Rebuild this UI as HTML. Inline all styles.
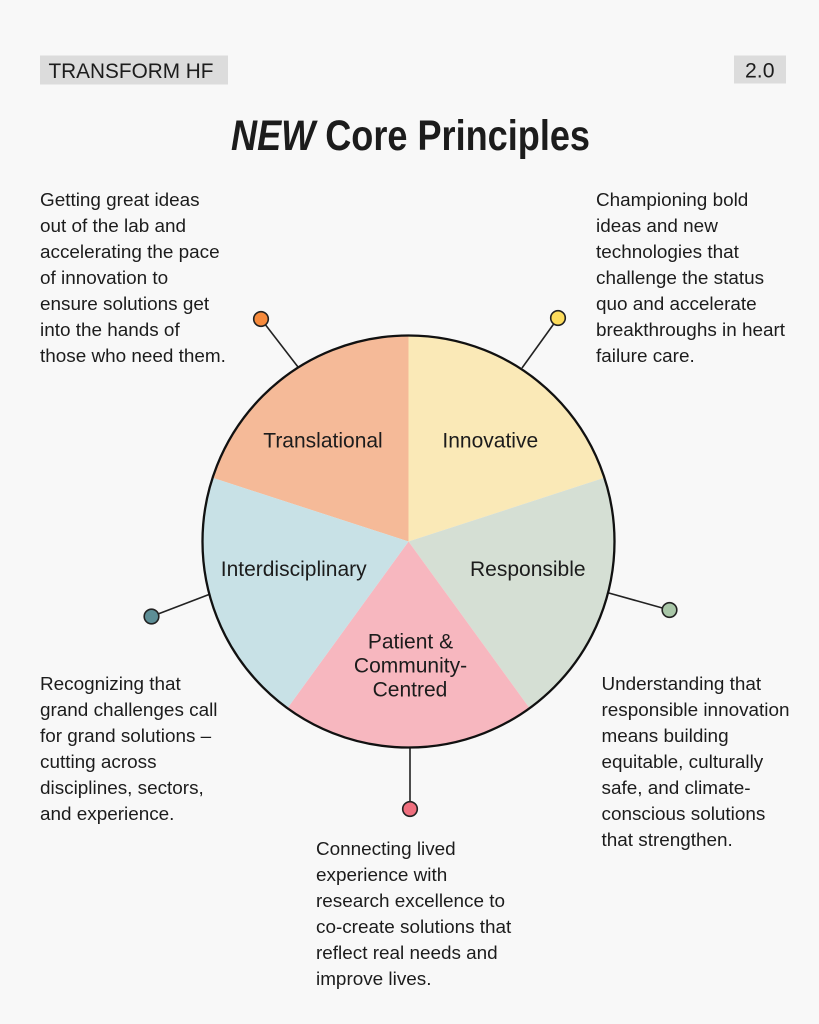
<!DOCTYPE html>
<html>
<head>
<meta charset="utf-8">
<style>
  html, body { margin: 0; padding: 0; background: #f8f8f8; }
  body { width: 819px; height: 1024px; overflow: hidden; }
  svg { display: block; }
  text { font-family: "Liberation Sans", Arial, sans-serif; fill: #1c1c1c; }
  .body { font-size: 18.9px; }
  .lbl { font-size: 21px; text-anchor: middle; }
</style>
</head>
<body>
<svg width="819" height="1024" viewBox="0 0 819 1024" xmlns="http://www.w3.org/2000/svg">
  <rect x="0" y="0" width="819" height="1024" fill="#f8f8f8"/>

  <!-- Header tags -->
  <rect x="40" y="55.5" width="188" height="29" fill="#dcdcdc"/>
  <text x="48.5" y="78" font-size="21.5" textLength="165" lengthAdjust="spacingAndGlyphs">TRANSFORM HF</text>
  <rect x="734" y="55.5" width="52" height="28" fill="#dcdcdc"/>
  <text x="745" y="77.7" font-size="21.5" textLength="29.5" lengthAdjust="spacingAndGlyphs">2.0</text>

  <!-- Title -->
  <text x="231" y="150" font-size="43" font-weight="bold" textLength="359" lengthAdjust="spacingAndGlyphs"><tspan font-style="italic">NEW</tspan> Core Principles</text>

  <!-- Connectors -->
  <g stroke="#222" stroke-width="1.6" fill="none">
    <line x1="261" y1="319" x2="298" y2="367"/>
    <line x1="558" y1="318" x2="522" y2="368"/>
    <line x1="669.5" y1="610" x2="607" y2="592.5"/>
    <line x1="151.5" y1="616.5" x2="209" y2="594.5"/>
    <line x1="410" y1="809" x2="410" y2="746"/>
  </g>
  <g stroke="#222" stroke-width="1.6">
    <circle cx="261" cy="319" r="7.3" fill="#f68a3c"/>
    <circle cx="558" cy="318" r="7.3" fill="#fddc5c"/>
    <circle cx="669.5" cy="610" r="7.3" fill="#a9c7a8"/>
    <circle cx="151.5" cy="616.5" r="7.3" fill="#5d8e96"/>
    <circle cx="410" cy="809" r="7.3" fill="#ef6f7e"/>
  </g>

  <!-- Pie -->
  <g>
    <path d="M408.5,541.5 L212.6,477.8 A206,206 0 0 1 408.5,335.5 Z" fill="#f5ba98"/>
    <path d="M408.5,541.5 L408.5,335.5 A206,206 0 0 1 604.4,477.8 Z" fill="#fae9b7"/>
    <path d="M408.5,541.5 L604.4,477.8 A206,206 0 0 1 529.6,708.2 Z" fill="#d5dfd4"/>
    <path d="M408.5,541.5 L529.6,708.2 A206,206 0 0 1 287.4,708.2 Z" fill="#f7b7bf"/>
    <path d="M408.5,541.5 L287.4,708.2 A206,206 0 0 1 212.6,477.8 Z" fill="#c8e1e6"/>
    <circle cx="408.5" cy="541.5" r="206" fill="none" stroke="#111" stroke-width="2.3"/>
  </g>

  <!-- Pie labels -->
  <text class="lbl" x="323" y="447.7">Translational</text>
  <text class="lbl" x="490.3" y="447.7">Innovative</text>
  <text class="lbl" x="293.7" y="576">Interdisciplinary</text>
  <text class="lbl" x="527.8" y="576">Responsible</text>
  <text class="lbl" x="410.5" y="648.3">Patient &amp;</text>
  <text class="lbl" x="410.5" y="672.3">Community-</text>
  <text class="lbl" x="410" y="696.3">Centred</text>

  <!-- Block 1: Translational -->
  <text class="body" x="40" y="206">Getting great ideas</text>
  <text class="body" x="40" y="232">out of the lab and</text>
  <text class="body" x="40" y="258">accelerating the pace</text>
  <text class="body" x="40" y="284">of innovation to</text>
  <text class="body" x="40" y="310">ensure solutions get</text>
  <text class="body" x="40" y="336">into the hands of</text>
  <text class="body" x="40" y="362">those who need them.</text>

  <!-- Block 2: Innovative -->
  <text class="body" x="596" y="206">Championing bold</text>
  <text class="body" x="596" y="232">ideas and new</text>
  <text class="body" x="596" y="258">technologies that</text>
  <text class="body" x="596" y="284">challenge the status</text>
  <text class="body" x="596" y="310">quo and accelerate</text>
  <text class="body" x="596" y="336">breakthroughs in heart</text>
  <text class="body" x="596" y="362">failure care.</text>

  <!-- Block 3: Interdisciplinary -->
  <text class="body" x="40" y="690">Recognizing that</text>
  <text class="body" x="40" y="716">grand challenges call</text>
  <text class="body" x="40" y="742">for grand solutions –</text>
  <text class="body" x="40" y="768">cutting across</text>
  <text class="body" x="40" y="794">disciplines, sectors,</text>
  <text class="body" x="40" y="820">and experience.</text>

  <!-- Block 4: Responsible -->
  <text class="body" x="601.5" y="690">Understanding that</text>
  <text class="body" x="601.5" y="716">responsible innovation</text>
  <text class="body" x="601.5" y="742">means building</text>
  <text class="body" x="601.5" y="768">equitable, culturally</text>
  <text class="body" x="601.5" y="794">safe, and climate-</text>
  <text class="body" x="601.5" y="820">conscious solutions</text>
  <text class="body" x="601.5" y="846">that strengthen.</text>

  <!-- Block 5: Patient & Community-Centred -->
  <text class="body" x="316" y="855">Connecting lived</text>
  <text class="body" x="316" y="881">experience with</text>
  <text class="body" x="316" y="907">research excellence to</text>
  <text class="body" x="316" y="933">co-create solutions that</text>
  <text class="body" x="316" y="959">reflect real needs and</text>
  <text class="body" x="316" y="985">improve lives.</text>
</svg>
</body>
</html>
